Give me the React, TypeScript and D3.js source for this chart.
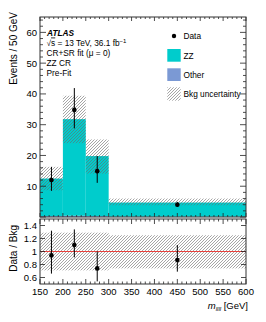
import React from "react";
import * as d3 from "d3";

// bins in m4l [GeV]
const binEdges = [150, 200, 250, 300, 600];
// stacked background, events / 50 GeV
const otherYield = [0.3, 0.4, 0.3, 0.1];
const zzYield = [12.2, 31.4, 19.5, 4.6];
// total background uncertainty band
const bandLo = [8.7, 24.0, 14.1, 3.8];
const bandHi = [16.3, 39.4, 25.2, 6.0];
// data points
const dataX = [175, 225, 275, 450];
const dataY = [12.0, 34.8, 14.9, 4.0];
const dataLo = [8.5, 28.8, 11.1, 3.3];
const dataHi = [16.3, 41.9, 19.8, 4.9];
// ratio panel
const ratioY = [0.94, 1.1, 0.74, 0.87];
const ratioLo = [0.66, 0.91, 0.54, 0.69];
const ratioHi = [1.32, 1.34, 1.0, 1.1];
const ratioBandLo = [0.71, 0.71, 0.71, 0.74];
const ratioBandHi = [1.29, 1.29, 1.29, 1.25];

const xTicks = [150, 200, 250, 300, 350, 400, 450, 500, 550, 600];
const yTicks = [10, 20, 30, 40, 50, 60];
const rTicks = [0.6, 0.8, 1, 1.2, 1.4];

const ZZ_COLOR = "#00cccc";
const OTHER_COLOR = "#7b99d4";
const FONT = "Liberation Sans, Arial, sans-serif";

const left = 40,
  right = 246;
const mainTop = 17,
  mainBottom = 217;
const ratTop = 219,
  ratBottom = 284;

export default function App() {
  const x = d3.scaleLinear().domain([150, 600]).range([left, right]);
  const y = d3.scaleLinear().domain([0, 65]).range([mainBottom, mainTop]);
  const r = d3.scaleLinear().domain([0.5, 1.5]).range([ratBottom, ratTop]);

  const minorX = d3.range(150, 601, 10);
  const minorY = d3.range(0, 65, 2);

  const bins = binEdges.slice(0, -1).map((lo, i) => ({
    lo,
    hi: binEdges[i + 1],
    other: otherYield[i],
    zz: zzYield[i],
  }));

  // frame ticks for a panel
  const xTickMarks = (top: number, bottom: number, maj: number, min: number) =>
    minorX.map((v) => {
      const len = v % 50 === 0 ? maj : min;
      return (
        <g key={"xt" + top + v}>
          <line x1={x(v)} x2={x(v)} y1={bottom} y2={bottom - len} stroke="#222" strokeWidth={0.8} />
          <line x1={x(v)} x2={x(v)} y1={top} y2={top + len} stroke="#222" strokeWidth={0.8} />
        </g>
      );
    });

  return (
    <svg
      width={266}
      height={322}
      style={{ position: "absolute", left: 0, top: 0, background: "#fff" }}
      fontFamily={FONT}
    >
      <defs>
        <pattern id="hatch" patternUnits="userSpaceOnUse" width={3} height={3}>
          <path d="M-1,1 l2,-2 M0,3 l3,-3 M2,4 l2,-2" stroke="#6a6a6a" strokeWidth={0.6} />
        </pattern>
        <clipPath id="mainClip">
          <rect x={left} y={mainTop} width={right - left} height={mainBottom - mainTop} />
        </clipPath>
      </defs>

      {/* main panel */}
      <g clipPath="url(#mainClip)">
        {bins.map((b, i) => (
          <g key={"bin" + i}>
            <rect
              x={x(b.lo)}
              width={x(b.hi) - x(b.lo)}
              y={y(b.other)}
              height={y(0) - y(b.other)}
              fill={OTHER_COLOR}
            />
            <rect
              x={x(b.lo)}
              width={x(b.hi) - x(b.lo)}
              y={y(b.other + b.zz)}
              height={y(b.other) - y(b.other + b.zz)}
              fill={ZZ_COLOR}
            />
            <rect
              x={x(b.lo)}
              width={x(b.hi) - x(b.lo)}
              y={y(bandHi[i])}
              height={y(bandLo[i]) - y(bandHi[i])}
              fill="url(#hatch)"
            />
          </g>
        ))}
      </g>
      {dataX.map((dx, i) => (
        <g key={"d" + i}>
          <line x1={x(dx)} x2={x(dx)} y1={y(dataLo[i])} y2={y(dataHi[i])} stroke="#000" strokeWidth={1} />
          <circle cx={x(dx)} cy={y(dataY[i])} r={2.3} fill="#000" />
        </g>
      ))}
      {xTickMarks(mainTop, mainBottom, 4, 2)}
      {minorY.map((v) => {
        const len = v % 10 === 0 ? 6 : 3;
        return (
          <g key={"yt" + v}>
            <line x1={left} x2={left + len} y1={y(v)} y2={y(v)} stroke="#222" strokeWidth={0.8} />
            <line x1={right} x2={right - len} y1={y(v)} y2={y(v)} stroke="#222" strokeWidth={0.8} />
          </g>
        );
      })}
      {yTicks.map((v) => (
        <text key={"yl" + v} x={left - 3} y={y(v) + 3.4} textAnchor="end" fontSize={9.5}>
          {v}
        </text>
      ))}
      <rect x={left} y={mainTop} width={right - left} height={mainBottom - mainTop} fill="none" stroke="#333" strokeWidth={1} />
      <text transform="translate(16.5,12) rotate(-90)" textAnchor="end" fontSize={10}>
        Events / 50 GeV
      </text>

      {/* labels */}
      <g fontSize={8.3}>
        <text x={47} y={35.5} fontWeight="bold" fontStyle="italic">
          ATLAS
        </text>
        <text x={46.5} y={45.5}>
          √<tspan style={{ textDecoration: "overline" }}>s</tspan> = 13 TeV, 36.1 fb
          <tspan dy={-3} fontSize={6}>
            −1
          </tspan>
        </text>
        <text x={46.5} y={55.5}>
          CR+SR fit (μ = 0)
        </text>
        <text x={46.5} y={65.5}>
          ZZ CR
        </text>
        <text x={46.5} y={75.5}>
          Pre-Fit
        </text>
      </g>

      {/* legend */}
      <g fontSize={8.3}>
        <circle cx={174} cy={36} r={2.2} fill="#000" />
        <text x={183.5} y={39}>
          Data
        </text>
        <rect x={167.3} y={49} width={13.4} height={12.7} fill={ZZ_COLOR} />
        <text x={183.5} y={58.7}>
          ZZ
        </text>
        <rect x={167.3} y={68.3} width={13.4} height={12.7} fill={OTHER_COLOR} />
        <text x={183.5} y={78}>
          Other
        </text>
        <rect x={167.3} y={87.3} width={13.4} height={13.4} fill="url(#hatch)" />
        <text x={183.5} y={97.3}>
          Bkg uncertainty
        </text>
      </g>

      {/* ratio panel */}
      {bins.map((b, i) => (
        <rect
          key={"rb" + i}
          x={x(b.lo)}
          width={x(b.hi) - x(b.lo)}
          y={r(ratioBandHi[i])}
          height={r(ratioBandLo[i]) - r(ratioBandHi[i])}
          fill="url(#hatch)"
        />
      ))}
      <line x1={left} x2={right} y1={r(1)} y2={r(1)} stroke="#e8302a" strokeWidth={0.9} />
      {dataX.map((dx, i) => (
        <g key={"rd" + i}>
          <line x1={x(dx)} x2={x(dx)} y1={r(ratioLo[i])} y2={r(ratioHi[i])} stroke="#000" strokeWidth={1} />
          <circle cx={x(dx)} cy={r(ratioY[i])} r={2.3} fill="#000" />
        </g>
      ))}
      {xTickMarks(ratTop, ratBottom, 5, 2.5)}
      {rTicks.map((v) => (
        <g key={"rt" + v}>
          <line x1={left} x2={left + 5} y1={r(v)} y2={r(v)} stroke="#222" strokeWidth={0.8} />
          <line x1={right} x2={right - 5} y1={r(v)} y2={r(v)} stroke="#222" strokeWidth={0.8} />
          <text x={left - 3} y={r(v) + 3.4} textAnchor="end" fontSize={9.5}>
            {v === 1 ? "1" : v.toFixed(1)}
          </text>
        </g>
      ))}
      <rect x={left} y={ratTop} width={right - left} height={ratBottom - ratTop} fill="none" stroke="#333" strokeWidth={1} />
      {xTicks.map((v) => (
        <text key={"xl" + v} x={x(v)} y={294.5} textAnchor="middle" fontSize={9.5}>
          {v}
        </text>
      ))}
      <text transform="translate(16.5,225) rotate(-90)" textAnchor="end" fontSize={10}>
        Data / Bkg
      </text>
      <text x={248} y={309} textAnchor="end" fontSize={9.5}>
        <tspan fontStyle="italic">m</tspan>
        <tspan fontStyle="italic" fontSize={6} dy={2}>
          llll
        </tspan>
        <tspan dy={-2}> [GeV]</tspan>
      </text>
    </svg>
  );
}
